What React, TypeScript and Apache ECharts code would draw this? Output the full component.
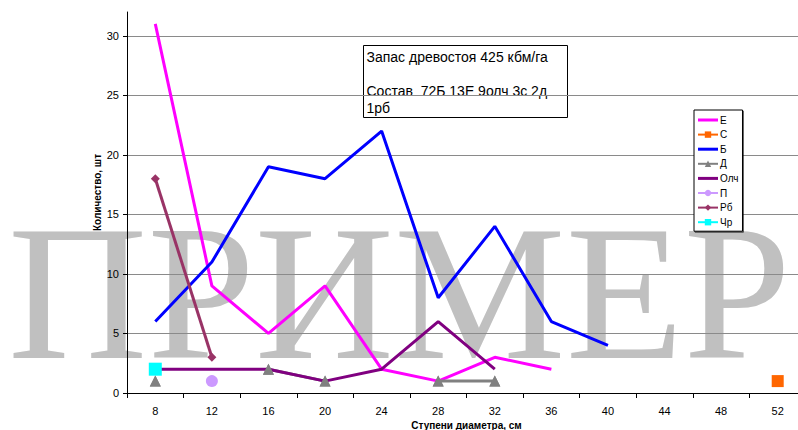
import React, { useEffect, useRef } from "react";
import * as echarts from "echarts";

const categories = ["8", "12", "16", "20", "24", "28", "32", "36", "40", "44", "48", "52"];
const seriesE = [31, 9, 5, 9, 2, 1, 3, 2, null, null, null, null];
const seriesC = [null, null, null, null, null, null, null, null, null, null, null, 1];
const seriesB = [6, 11, 19, 18, 22, 8, 14, 6, 4, null, null, null];
const seriesD = [1, null, 2, 1, null, 1, 1, null, null, null, null, null];
const seriesOlch = [2, 2, 2, 1, 2, 6, 2, null, null, null, null, null];
const seriesP = [null, 1, null, null, null, null, null, null, null, null, null, null];
const seriesRb = [18, 3, null, null, null, null, null, null, null, null, null, null];
const seriesChr = [2, null, null, null, null, null, null, null, null, null, null, null];
const yTicks = [0, 5, 10, 15, 20, 25, 30];
const legendNames = ["Е", "С", "Б", "Д", "Олч", "П", "Рб", "Чр"];
const lineOnlyNames = ["Е", "Б", "Олч"];
const infoText = "Запас древостоя 425 кбм/га\n\nСостав  72Б 13Е 9олч 3с 2д\n1рб";
const watermark = "ПРИМЕР";

const FONT = "Liberation Sans, Arial, sans-serif";

export default function App() {
  const ref = useRef<HTMLDivElement>(null);
  useEffect(() => {
    if (!ref.current) return;
    const chart = echarts.init(ref.current, undefined, { renderer: "svg" });
    const line = (name: string, data: any[], color: string, symbol: string, size: number, z = 2) => ({
      name,
      type: "line",
      data,
      z,
      symbol,
      symbolSize: size,
      showSymbol: symbol !== "none",
      connectNulls: false,
      lineStyle: { color, width: 3 },
      itemStyle: { color },
      emphasis: { disabled: true },
    });
    chart.setOption({
      animation: false,
      textStyle: { fontFamily: FONT },
      grid: { left: 127, right: -8, top: 12, bottom: 37, outerBoundsMode: "none", containLabel: false },
      xAxis: {
        type: "category",
        data: categories,
        boundaryGap: true,
        name: "Ступени диаметра, см",
        nameLocation: "middle",
        nameGap: 27,
        nameMoveOverlap: false,
        nameTextStyle: { fontSize: 10, fontWeight: "bold", color: "#000", fontFamily: FONT },
        axisLine: { lineStyle: { color: "#000", width: 1 } },
        axisTick: { show: true, inside: false, length: 5, lineStyle: { color: "#000" } },
        axisLabel: { fontSize: 11, color: "#000", margin: 12, fontFamily: FONT },
        splitLine: { show: false },
      },
      yAxis: {
        type: "value",
        min: 0,
        max: 32,
        interval: 5,
        name: "Количество, шт",
        nameLocation: "middle",
        nameGap: 25,
        nameMoveOverlap: false,
        nameTextStyle: { fontSize: 10, fontWeight: "bold", color: "#000", fontFamily: FONT, padding: [0, 0, 0, 20] },
        axisLine: { show: true, lineStyle: { color: "#000", width: 1 } },
        axisTick: { show: true, length: 4, lineStyle: { color: "#000" }, customValues: yTicks },
        axisLabel: { fontSize: 11, color: "#000", margin: 8, customValues: yTicks, fontFamily: FONT },
        splitLine: { show: true, lineStyle: { color: "#8a8a8a", width: 1 } },
      },
      legend: {
        data: legendNames.map((n) =>
          lineOnlyNames.includes(n) ? { name: n, icon: "path://M0,0H20V3H0Z" } : { name: n }
        ),
        orient: "vertical",
        left: 694,
        top: 110,
        itemWidth: 20,
        itemHeight: 8,
        itemGap: 4.6,
        padding: [5, 4, 4, 3],
        backgroundColor: "#fff",
        borderColor: "#000",
        borderWidth: 1,
        shadowColor: "rgba(0,0,0,0.6)",
        shadowOffsetX: 1,
        shadowOffsetY: 1,
        shadowBlur: 0,
        textStyle: { fontSize: 10, color: "#000", fontFamily: FONT, padding: [0, 0, 0, -3] },
        selectedMode: false,
        z: 20,
      },
      graphic: [
        {
          type: "text",
          left: 8,
          top: 196,
          z: -10,
          silent: true,
          style: {
            text: watermark,
            fontFamily: "Liberation Serif, Times New Roman, serif",
            fontSize: 193,
            fill: "#c0c0c0",
          },
        },
        {
          type: "group",
          left: 363,
          top: 45,
          z: 30,
          children: [
            { type: "rect", shape: { x: 0, y: 0, width: 204, height: 72 }, style: { fill: "#fff", stroke: "#000", lineWidth: 1 } },
            {
              type: "text",
              x: 3,
              y: 3,
              style: { text: infoText, fontFamily: FONT, fontSize: 14, lineHeight: 17, fill: "#000" },
            },
          ],
        },
      ],
      series: [
        line("Е", seriesE, "#FF00FF", "none", 0),
        line("С", seriesC, "#FF6600", "rect", 12),
        line("Б", seriesB, "#0000FF", "none", 0),
        line("Д", seriesD, "#808080", "triangle", 11),
        line("Олч", seriesOlch, "#800080", "none", 0),
        line("П", seriesP, "#CC99FF", "circle", 12),
        line("Рб", seriesRb, "#993366", "diamond", 9),
        line("Чр", seriesChr, "#00FFFF", "rect", 13),
        {
          type: "line",
          data: seriesD,
          z: 5,
          symbol: "triangle",
          symbolSize: 11,
          showSymbol: true,
          lineStyle: { opacity: 0, width: 0 },
          itemStyle: { color: "#808080" },
          emphasis: { disabled: true },
        },
      ],
    });
    return () => chart.dispose();
  }, []);
  return <div ref={ref} style={{ width: 798, height: 430, position: "absolute", left: 0, top: 0 }} />;
}
